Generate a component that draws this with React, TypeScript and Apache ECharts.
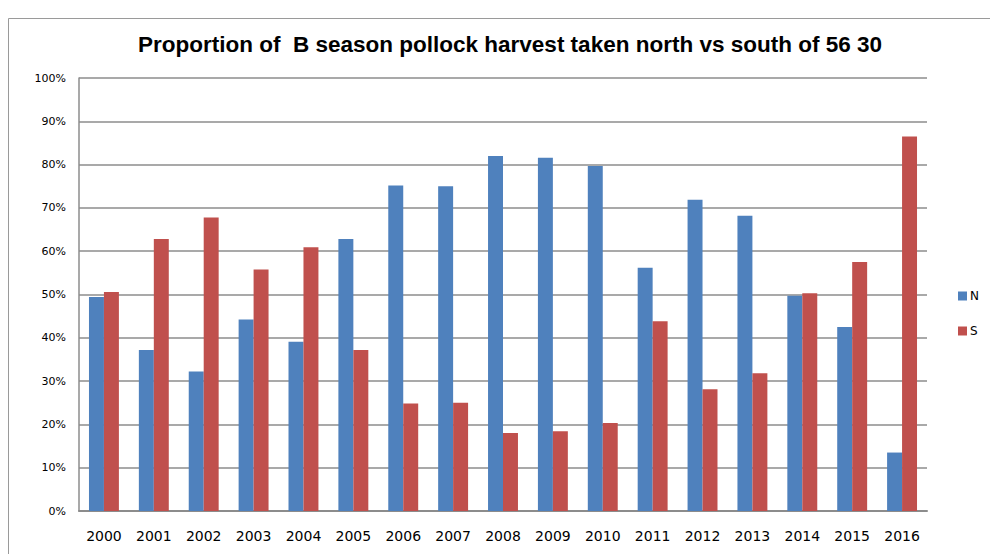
import React, { useEffect, useRef } from "react";
import * as echarts from "echarts";

const categories = ["2000","2001","2002","2003","2004","2005","2006","2007","2008","2009","2010","2011","2012","2013","2014","2015","2016"];
const northValues = [49.4, 37.2, 32.2, 44.2, 39.1, 62.8, 75.2, 75.0, 82.0, 81.6, 79.7, 56.2, 71.9, 68.2, 49.7, 42.5, 13.5];
const southValues = [50.6, 62.8, 67.8, 55.8, 60.9, 37.2, 24.8, 25.0, 18.0, 18.4, 20.3, 43.8, 28.1, 31.8, 50.3, 57.5, 86.5];
const yTicks = [0, 10, 20, 30, 40, 50, 60, 70, 80, 90, 100];

export default function App() {
  const ref = useRef<HTMLDivElement>(null);
  useEffect(() => {
    document.body.style.margin = "0";
    const chart = echarts.init(ref.current!, null, { renderer: "svg" });
    const font = "DejaVu Sans, sans-serif";
    chart.setOption({
      animation: false,
      backgroundColor: "#ffffff",
      title: {
        text: "Proportion of  B season pollock harvest taken north vs south of 56 30",
        left: 505,
        textAlign: "center",
        top: 28,
        textStyle: { fontFamily: "Liberation Sans, sans-serif", fontWeight: "bold", fontSize: 22.5, color: "#000" },
      },
      graphic: [
        {
          type: "rect",
          shape: { x: 8.5, y: 18.5, width: 1000, height: 600 },
          style: { fill: "none", stroke: "#9a9a9a", lineWidth: 1 },
          silent: true,
        },
      ],
      legend: {
        orient: "vertical",
        left: 953,
        top: 285,
        itemWidth: 9,
        itemHeight: 9,
        itemGap: 23,
        icon: "rect",
        textStyle: { fontFamily: font, fontSize: 12, color: "#000", padding: [0, 0, 0, -2] },
        data: ["N", "S"],
      },
      grid: { left: 79, right: 63, top: 78, bottom: 43, containLabel: false },
      xAxis: {
        type: "category",
        data: categories,
        axisLine: { lineStyle: { color: "#8c8c8c", width: 2 } },
        axisTick: { show: false },
        axisLabel: { fontFamily: font, fontSize: 14, color: "#000", margin: 18 },
      },
      yAxis: {
        type: "value",
        min: 0,
        max: 100,
        interval: 10,
        axisLine: { show: true, lineStyle: { color: "#8c8c8c", width: 1.5 } },
        axisTick: { show: false },
        splitLine: { lineStyle: { color: "#8c8c8c", width: 1.5 } },
        axisLabel: {
          fontFamily: font,
          fontSize: 11,
          color: "#000",
          margin: 13,
          formatter: (v: number) => (yTicks.includes(v) ? v + "%" : ""),
        },
      },
      series: [
        {
          name: "N",
          type: "bar",
          data: northValues,
          itemStyle: { color: "#4F81BD" },
          barGap: "0%",
          barCategoryGap: "40%",
        },
        {
          name: "S",
          type: "bar",
          data: southValues,
          itemStyle: { color: "#C0504D" },
          barGap: "0%",
          barCategoryGap: "40%",
        },
      ],
    });
    return () => chart.dispose();
  }, []);
  return <div ref={ref} style={{ width: 990, height: 554 }} />;
}
